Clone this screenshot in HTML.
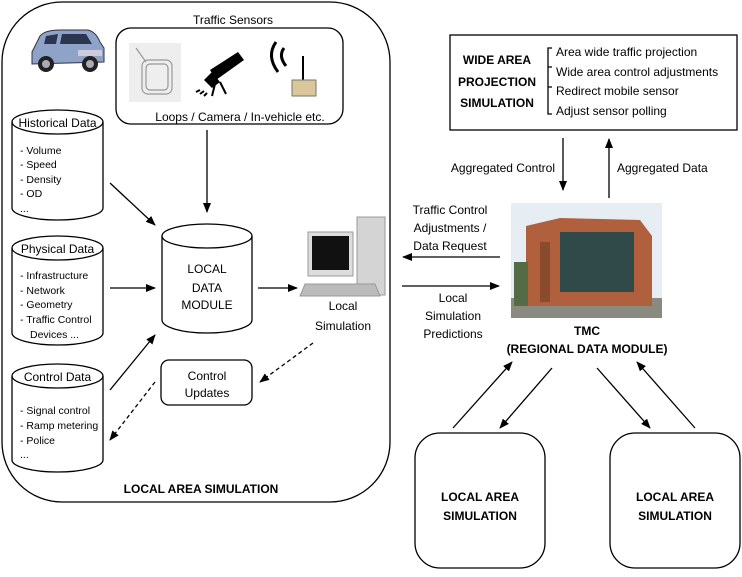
<!DOCTYPE html>
<html><head><meta charset="utf-8"><style>
html,body{margin:0;padding:0;background:#fff}
svg{display:block}
text{font-family:"Liberation Sans",Arial,sans-serif;font-size:12px;fill:#000}
.s{font-size:10.5px}
.b{font-weight:bold}
</style></head><body>
<svg width="742" height="577" viewBox="0 0 742 577" xmlns="http://www.w3.org/2000/svg">
<defs>
<marker id="a" markerWidth="10" markerHeight="8" refX="9" refY="4" orient="auto" markerUnits="userSpaceOnUse">
<path d="M0,0 L10,4 L0,8 z" fill="#000"/></marker>
</defs>
<g fill="none" stroke="#000" stroke-width="1.3">
<rect x="2" y="2" width="388" height="500" rx="60"/>
<rect x="116" y="28" width="227" height="96" rx="15"/>
<path d="M12,122 V208 A45.5,12 0 0 0 103,208 V122"/><ellipse cx="57.5" cy="122" rx="45.5" ry="12"/>
<path d="M12,248 V333 A45.5,12 0 0 0 103,333 V248"/><ellipse cx="57.5" cy="248" rx="45.5" ry="12"/>
<path d="M12,376 V460 A45.5,12 0 0 0 103,460 V376"/><ellipse cx="57.5" cy="376" rx="45.5" ry="12"/>
<path d="M162,236 V320 A45,13 0 0 0 252,320 V236"/><ellipse cx="207" cy="236" rx="45" ry="12"/>
<rect x="161" y="360" width="91" height="45" rx="8"/>
<line x1="110" y1="183" x2="155" y2="225" marker-end="url(#a)"/>
<line x1="110" y1="288" x2="155" y2="288" marker-end="url(#a)"/>
<line x1="110" y1="390" x2="155" y2="335" marker-end="url(#a)"/>
<line x1="207" y1="130" x2="207" y2="212" marker-end="url(#a)"/>
<line x1="258" y1="288" x2="297" y2="288" marker-end="url(#a)"/>
<line x1="313" y1="343" x2="260" y2="382" stroke-dasharray="4,3" marker-end="url(#a)"/>
<line x1="155" y1="382" x2="110" y2="440" stroke-dasharray="4,3" marker-end="url(#a)"/>
<rect x="450" y="35" width="287" height="95"/>
<path d="M552,48 H548 V114 H552"/>
<line x1="563" y1="138" x2="563" y2="190" marker-end="url(#a)"/>
<line x1="609" y1="198" x2="609" y2="139" marker-end="url(#a)"/>
<line x1="500" y1="257" x2="403" y2="257" marker-end="url(#a)"/>
<line x1="402" y1="286" x2="499" y2="286" marker-end="url(#a)"/>
<rect x="415" y="433" width="130" height="135" rx="25"/>
<rect x="610" y="433" width="130" height="135" rx="25"/>
<line x1="453" y1="428" x2="512" y2="362" marker-end="url(#a)"/>
<line x1="552" y1="368" x2="500" y2="428" marker-end="url(#a)"/>
<line x1="597" y1="368" x2="650" y2="428" marker-end="url(#a)"/>
<line x1="695" y1="428" x2="637" y2="362" marker-end="url(#a)"/>
<path d="M548,67 H552 M548,87 H552"/>
</g>
<g>
<path d="M32,52 L40,36 Q45,30 60,30 L88,30 Q96,32 100,42 L104,48 L104,62 L32,64 z" fill="#8fa3c8" stroke="#334" stroke-width="1"/>
<path d="M46,36 L58,34 L56,44 L44,44 z M62,34 L86,34 L92,44 L60,44 z" fill="#2c3550"/>
<circle cx="46" cy="64" r="8" fill="#222"/><circle cx="46" cy="64" r="4" fill="#aab"/>
<circle cx="90" cy="64" r="8" fill="#222"/><circle cx="90" cy="64" r="4" fill="#aab"/>
<rect x="78" y="50" width="24" height="6" fill="#ccd"/>
</g>
<rect x="129" y="43" width="52" height="59" fill="#eee"/>
<g fill="none" stroke="#999" stroke-width="1.2">
<rect x="142" y="60" width="30" height="34" rx="6"/><rect x="146" y="64" width="22" height="26" rx="4"/><path d="M136,48 L146,62"/>
</g>
<g fill="#000">
<path d="M210,70 L238,52 L244,60 L216,80 z"/>
<path d="M204,80 L212,72 L220,82 L212,88 z"/>
<path d="M215,84 L212,96 M220,82 L226,94" stroke="#000" stroke-width="2"/>
<path d="M196,92 L200,90 M200,94 L204,91 M204,96 L207,93" stroke="#000" stroke-width="2"/>
</g>
<g fill="none" stroke="#000" stroke-width="3">
<path d="M276,42 Q266,56 278,72"/><path d="M284,48 Q278,56 286,66"/>
</g>
<line x1="303" y1="56" x2="303" y2="82" stroke="#000" stroke-width="2"/>
<rect x="292" y="80" width="24" height="16" fill="#d9c79b" stroke="#776" stroke-width="1"/>
<rect x="357" y="217" width="28" height="78" fill="#d4d4d4" stroke="#999"/>
<rect x="308" y="232" width="45" height="44" fill="#ddd" stroke="#999"/>
<rect x="312" y="236" width="37" height="34" fill="#111"/>
<path d="M305,284 L375,284 L380,296 L300,296 z" fill="#bbb" stroke="#999"/>
<rect x="511" y="203" width="151" height="115" fill="#e6edf3"/>
<rect x="511" y="298" width="151" height="20" fill="#8a8a80"/>
<path d="M526,226 L560,218 L640,220 L652,236 L652,306 L526,306 z" fill="#b0603c"/>
<path d="M560,232 L634,232 L634,292 L560,292 z" fill="#2f4a48"/>
<rect x="540" y="242" width="10" height="60" fill="#8a4a2c"/>
<rect x="514" y="262" width="14" height="44" fill="#556b45"/>
<text x="233" y="24" text-anchor="middle">Traffic Sensors</text>
<text x="240" y="121" text-anchor="middle">Loops / Camera / In-vehicle etc.</text>
<text x="57.5" y="127" text-anchor="middle">Historical Data</text>
<text class="s" x="20" y="154">- Volume</text>
<text class="s" x="20" y="168">- Speed</text>
<text class="s" x="20" y="183">- Density</text>
<text class="s" x="20" y="197">- OD</text>
<text class="s" x="20" y="212">...</text>
<text x="57.5" y="253" text-anchor="middle">Physical Data</text>
<text class="s" x="20" y="279">- Infrastructure</text>
<text class="s" x="20" y="294">- Network</text>
<text class="s" x="20" y="308">- Geometry</text>
<text class="s" x="20" y="323">- Traffic Control</text>
<text class="s" x="30" y="338">Devices ...</text>
<text x="57.5" y="381" text-anchor="middle">Control Data</text>
<text class="s" x="20" y="414">- Signal control</text>
<text class="s" x="20" y="429">- Ramp metering</text>
<text class="s" x="20" y="444">- Police</text>
<text class="s" x="20" y="458">...</text>
<text x="207" y="273" text-anchor="middle">LOCAL</text>
<text x="207" y="292" text-anchor="middle">DATA</text>
<text x="207" y="309" text-anchor="middle">MODULE</text>
<text x="207" y="380" text-anchor="middle">Control</text>
<text x="207" y="397" text-anchor="middle">Updates</text>
<text x="343" y="310" text-anchor="middle">Local</text>
<text x="343" y="330" text-anchor="middle">Simulation</text>
<text class="b" x="201" y="493" text-anchor="middle">LOCAL AREA SIMULATION</text>
<text class="b" x="497" y="64" text-anchor="middle">WIDE AREA</text>
<text class="b" x="497" y="86" text-anchor="middle">PROJECTION</text>
<text class="b" x="497" y="107" text-anchor="middle">SIMULATION</text>
<text x="556" y="56">Area wide traffic projection</text>
<text x="556" y="76">Wide area control adjustments</text>
<text x="556" y="95">Redirect mobile sensor</text>
<text x="556" y="115">Adjust sensor polling</text>
<text x="555" y="172" text-anchor="end">Aggregated Control</text>
<text x="617" y="172">Aggregated Data</text>
<text x="450" y="214" text-anchor="middle">Traffic Control</text>
<text x="450" y="232" text-anchor="middle">Adjustments /</text>
<text x="450" y="250" text-anchor="middle">Data Request</text>
<text x="453" y="302" text-anchor="middle">Local</text>
<text x="453" y="320" text-anchor="middle">Simulation</text>
<text x="453" y="338" text-anchor="middle">Predictions</text>
<text class="b" x="587" y="335" text-anchor="middle">TMC</text>
<text class="b" x="587" y="353" text-anchor="middle">(REGIONAL DATA MODULE)</text>
<text class="b" x="480" y="501" text-anchor="middle">LOCAL AREA</text>
<text class="b" x="480" y="520" text-anchor="middle">SIMULATION</text>
<text class="b" x="675" y="501" text-anchor="middle">LOCAL AREA</text>
<text class="b" x="675" y="520" text-anchor="middle">SIMULATION</text>
</svg>
</body></html>
